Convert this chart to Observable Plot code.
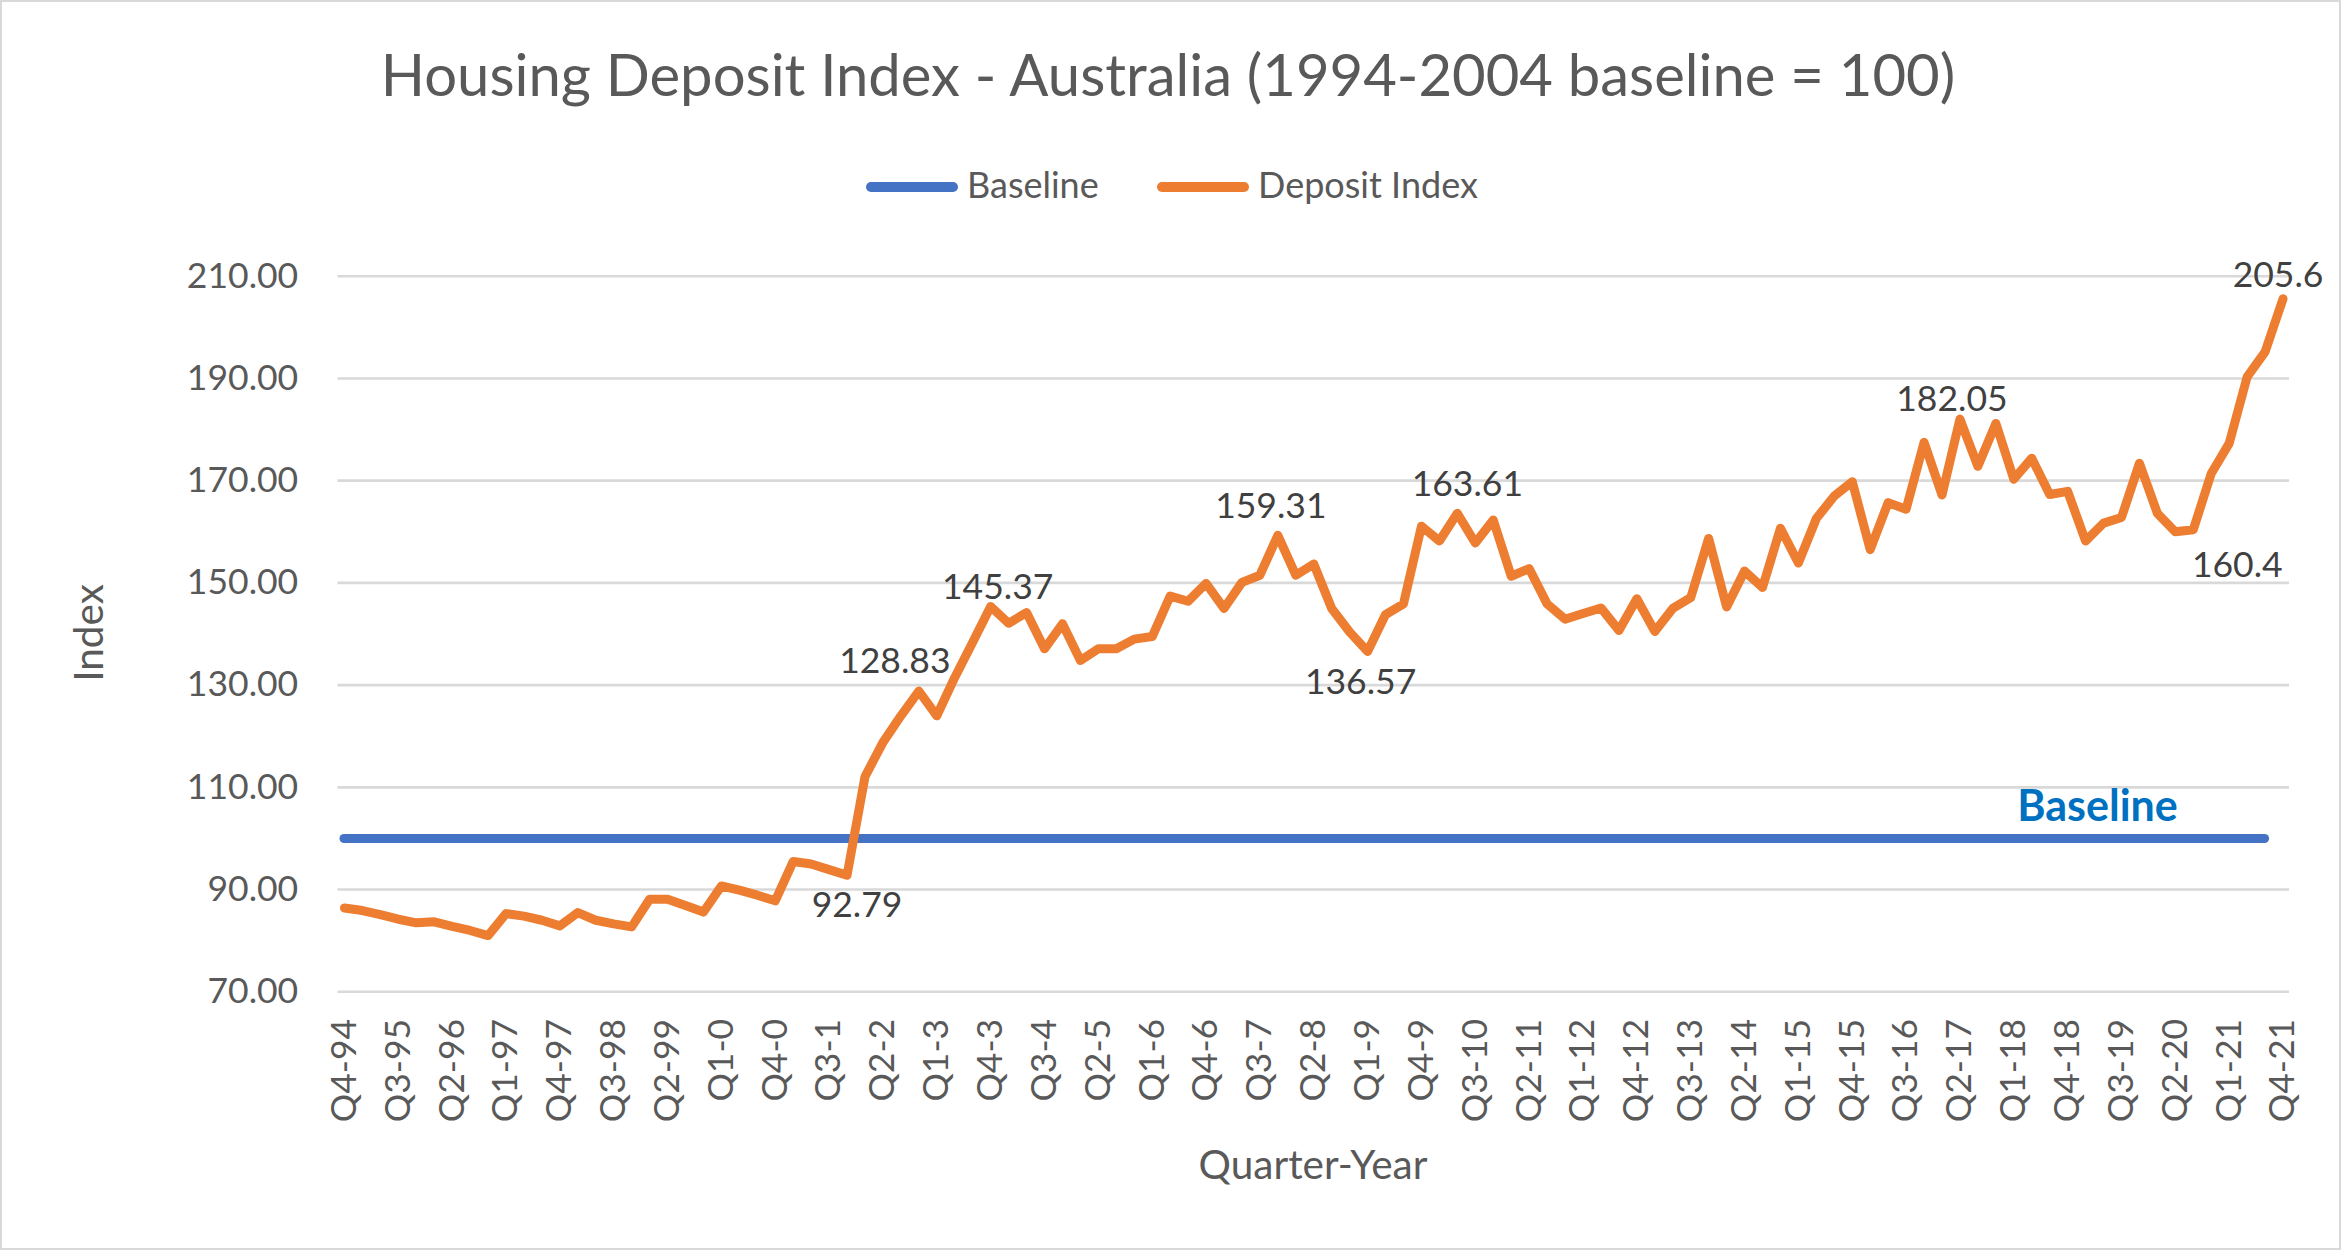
<!DOCTYPE html>
<html>
<head>
<meta charset="utf-8">
<script src="https://cdn.jsdelivr.net/npm/d3@7"></script>
<script src="https://cdn.jsdelivr.net/npm/@observablehq/plot@0.6"></script>
<style>
  html, body { margin: 0; padding: 0; background: #ffffff; }
  #chart { position: relative; width: 2341px; height: 1250px; background: #ffffff; overflow: hidden;
           font-family: Lato, "Open Sans", sans-serif; color: #595959; }
  #frame { position: absolute; left: 0; top: 0; width: 2341px; height: 1250px; box-sizing: border-box;
           border: 2px solid #d9d9d9; pointer-events: none; z-index: 10; }
  .title { position: absolute; left: 0; top: 45px; width: 2336px; text-align: center; font-size: 58px;
           line-height: 58px; white-space: nowrap; color: #595959; }
  .legend-swatch { position: absolute; top: 182px; width: 92px; height: 10px; border-radius: 5px; }
  .legend-text { position: absolute; top: 166px; font-size: 36px; line-height: 36px; white-space: nowrap; color: #595959; }
  .axis-title { position: absolute; font-size: 40.5px; line-height: 40.5px; white-space: nowrap; color: #595959; }
  #plot { position: absolute; left: 0; top: 230px; }
</style>
</head>
<body>
<div id="chart">
  <div class="title" id="title"></div>
  <div class="legend-swatch" id="sw1" style="left:866px;"></div>
  <div class="legend-text" id="lt1" style="left:967px;"></div>
  <div class="legend-swatch" id="sw2" style="left:1157px;"></div>
  <div class="legend-text" id="lt2" style="left:1258px;"></div>
  <div class="axis-title" id="ytitle" style="left:87.5px; top:633px; transform: translate(-50%,-50%) rotate(-90deg);"></div>
  <div class="axis-title" id="xtitle" style="left:1313px; top:1144px; transform: translateX(-50%);"></div>
  <div id="plot"></div>
  <div id="frame"></div>
</div>
<script>
// ---------------- DATA ----------------
const chartTitle = "Housing Deposit Index - Australia (1994-2004 baseline = 100)";
const seriesNames = ["Baseline", "Deposit Index"];
const xAxisTitle = "Quarter-Year";
const yAxisTitle = "Index";
const baselineAnnotation = "Baseline";

const quarters = [
  "Q4-94",
  "Q1-95","Q2-95","Q3-95","Q4-95",
  "Q1-96","Q2-96","Q3-96","Q4-96",
  "Q1-97","Q2-97","Q3-97","Q4-97",
  "Q1-98","Q2-98","Q3-98","Q4-98",
  "Q1-99","Q2-99","Q3-99","Q4-99",
  "Q1-0","Q2-0","Q3-0","Q4-0",
  "Q1-1","Q2-1","Q3-1","Q4-1",
  "Q1-2","Q2-2","Q3-2","Q4-2",
  "Q1-3","Q2-3","Q3-3","Q4-3",
  "Q1-4","Q2-4","Q3-4","Q4-4",
  "Q1-5","Q2-5","Q3-5","Q4-5",
  "Q1-6","Q2-6","Q3-6","Q4-6",
  "Q1-7","Q2-7","Q3-7","Q4-7",
  "Q1-8","Q2-8","Q3-8","Q4-8",
  "Q1-9","Q2-9","Q3-9","Q4-9",
  "Q1-10","Q2-10","Q3-10","Q4-10",
  "Q1-11","Q2-11","Q3-11","Q4-11",
  "Q1-12","Q2-12","Q3-12","Q4-12",
  "Q1-13","Q2-13","Q3-13","Q4-13",
  "Q1-14","Q2-14","Q3-14","Q4-14",
  "Q1-15","Q2-15","Q3-15","Q4-15",
  "Q1-16","Q2-16","Q3-16","Q4-16",
  "Q1-17","Q2-17","Q3-17","Q4-17",
  "Q1-18","Q2-18","Q3-18","Q4-18",
  "Q1-19","Q2-19","Q3-19","Q4-19",
  "Q1-20","Q2-20","Q3-20","Q4-20",
  "Q1-21","Q2-21","Q3-21","Q4-21"
];

const depositIndex = [
  86.4,
  85.9, 85.1, 84.2, 83.5,
  83.7, 82.8, 82.0, 81.0,
  85.3, 84.8, 84.0, 82.9,
  85.5, 84.0, 83.3, 82.7,
  88.1, 88.1, 86.9, 85.6,
  90.7, 89.9, 88.9, 87.8,
  95.5, 95.0, 93.9, 92.79,
  112.1, 118.8, 124.0, 128.83,
  124.0, 131.5, 138.4, 145.37,
  142.1, 144.2, 137.1, 142.0,
  134.8, 137.1, 137.1, 139.0,
  139.5, 147.4, 146.4, 149.9,
  145.0, 150.1, 151.5, 159.31,
  151.5, 153.7, 145.0, 140.4,
  136.57, 143.8, 145.9, 161.1,
  158.2, 163.61, 157.8, 162.3,
  151.3, 152.8, 145.9, 142.9,
  144.0, 145.1, 140.7, 146.9,
  140.5, 145.0, 147.1, 158.7,
  145.3, 152.3, 149.1, 160.7,
  153.9, 162.6, 167.0, 169.8,
  156.5, 165.7, 164.4, 177.5,
  167.2, 182.05, 172.8, 181.2,
  170.3, 174.4, 167.3, 167.9,
  158.2, 161.7, 162.8, 173.4,
  163.6, 160.0, 160.4, 171.4,
  177.3, 190.3, 195.2, 205.6
];

const baselineValue = 100;
const baselineFrom = "Q4-94";
const baselineTo = "Q3-21";

const xTickLabels = ["Q4-94","Q3-95","Q2-96","Q1-97","Q4-97","Q3-98","Q2-99","Q1-0","Q4-0","Q3-1",
  "Q2-2","Q1-3","Q4-3","Q3-4","Q2-5","Q1-6","Q4-6","Q3-7","Q2-8","Q1-9","Q4-9","Q3-10","Q2-11",
  "Q1-12","Q4-12","Q3-13","Q2-14","Q1-15","Q4-15","Q3-16","Q2-17","Q1-18","Q4-18","Q3-19","Q2-20",
  "Q1-21","Q4-21"];
const yTicks = [70, 90, 110, 130, 150, 170, 190, 210];

const labelQuarters = ["Q4-1","Q4-2","Q4-3","Q4-7","Q1-9","Q2-10","Q2-17","Q3-20","Q4-21"];

// ---------------- LAYOUT / STYLE ----------------
const COLORS = { baseline: "#4472C4", deposit: "#ED7D31", text: "#595959", label: "#404040", grid: "#D9D9D9", annot: "#0070C0" };
// label placement offsets (px) relative to the data point
const LABEL_OFFSETS = {
  "Q4-1":  [10, 30],
  "Q4-2":  [-24, -29],
  "Q4-3":  [7, -19],
  "Q4-7":  [-7, -29],
  "Q1-9":  [-7, 31],
  "Q2-10": [10, -29],
  "Q2-17": [-8, -19],
  "Q3-20": [44, 36],
  "Q4-21": [-5, -23]
};

document.getElementById("title").textContent = chartTitle;
document.getElementById("sw1").style.background = COLORS.baseline;
document.getElementById("sw2").style.background = COLORS.deposit;
document.getElementById("lt1").textContent = seriesNames[0];
document.getElementById("lt2").textContent = seriesNames[1];
document.getElementById("ytitle").textContent = yAxisTitle;
document.getElementById("xtitle").textContent = xAxisTitle;

const deposit = depositIndex.map((v, i) => ({ i, v }));
const xTickIdx = xTickLabels.map(q => quarters.indexOf(q));
const n = quarters.length - 1;

const labelMarks = labelQuarters.map(q => {
  const i = quarters.indexOf(q);
  const [dx, dy] = LABEL_OFFSETS[q];
  return Plot.text([{ i, v: depositIndex[i] }], {
    x: "i", y: "v", text: d => String(d.v), dx, dy,
    fill: COLORS.label, fontSize: 35.5, textAnchor: "middle"
  });
});

const chart = Plot.plot({
  width: 2341,
  height: 1020,
  marginLeft: 337.5,
  marginRight: 52,
  marginTop: 45.7,
  marginBottom: 258.7,
  x: { type: "linear", domain: [-0.36, n + 0.36], axis: null },
  y: { type: "linear", domain: [70, 210], axis: null },
  style: { fontFamily: "Lato, 'Open Sans', sans-serif", color: COLORS.text, background: "transparent", overflow: "visible" },
  marks: [
    Plot.ruleY(yTicks, { stroke: COLORS.grid, strokeWidth: 2.6 }),
    Plot.axisY({ ticks: yTicks, tickFormat: d => d.toFixed(2), tickSize: 0, tickPadding: 39.8, fontSize: 35.5, label: null }),
    Plot.axisX({ ticks: xTickIdx, tickFormat: i => quarters[i], tickRotate: -90, tickSize: 0, tickPadding: 27, fontSize: 35.5, label: null }),
    Plot.ruleY([baselineValue], {
      x1: () => quarters.indexOf(baselineFrom), x2: () => quarters.indexOf(baselineTo),
      stroke: COLORS.baseline, strokeWidth: 9, strokeLinecap: "round"
    }),
    Plot.line(deposit, { x: "i", y: "v", stroke: COLORS.deposit, strokeWidth: 9, strokeLinejoin: "round", strokeLinecap: "round" }),
    Plot.text([baselineAnnotation], {
      x: () => quarters.indexOf("Q2-19"), y: () => baselineValue, text: d => d,
      dx: -6, dy: -31, fill: COLORS.annot, fontSize: 43, fontWeight: "bold", textAnchor: "middle"
    }),
    ...labelMarks
  ]
});
document.getElementById("plot").appendChild(chart);
</script>
</body>
</html>
